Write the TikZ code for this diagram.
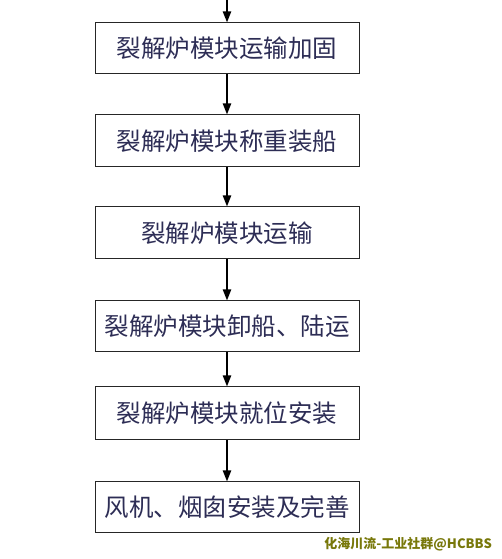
\documentclass[tikz,border=0pt]{standalone}
\usepackage{fontspec}
\newfontfamily\cjk{Noto Sans CJK SC}
\usetikzlibrary{arrows.meta}
\definecolor{txt}{RGB}{45,45,85}
\definecolor{wm}{RGB}{120,120,10}
\tikzset{
  stepbox/.style={draw=black!85, line width=1pt, minimum width=264pt, minimum height=51pt, inner sep=0pt, font=\cjk\fontsize{24.5pt}{26pt}\selectfont, text=txt},
  flow/.style={line width=2pt, -{Triangle[length=11pt,width=8pt]}}
}
\begin{document}
\begin{tikzpicture}[x=1pt,y=1pt]
\useasboundingbox (0,0) rectangle (501,559);
\fill[white] (0,0) rectangle (501,559);
\coordinate (top) at (227,559);
\node[stepbox] (b1) at (227,{559-48.5}) {裂解炉模块运输加固};
\node[stepbox, minimum height=52pt] (b2) at (227,{559-141}) {裂解炉模块称重装船};
\node[stepbox, minimum height=52pt] (b3) at (227,{559-233}) {裂解炉模块运输};
\node[stepbox] (b4) at (227,{559-326.5}) {裂解炉模块卸船、陆运};
\node[stepbox, minimum height=53pt] (b5) at (227,{559-413.5}) {裂解炉模块就位安装};
\node[stepbox] (b6) at (227,{559-507.5}) {风机、烟囱安装及完善};
\draw[flow] (top) -- (b1.north);
\draw[flow] (b1) -- (b2);
\draw[flow] (b2) -- (b3);
\draw[flow] (b3) -- (b4);
\draw[flow] (b4) -- (b5);
\draw[flow] (b5) -- (b6);
\node[anchor=east, inner sep=0pt, text=wm, font=\cjk\bfseries\fontsize{13pt}{14pt}\selectfont] (wmk) at (492,{559-544}) {化海川流-工业社群@HCBBS};
\end{tikzpicture}
\end{document}
